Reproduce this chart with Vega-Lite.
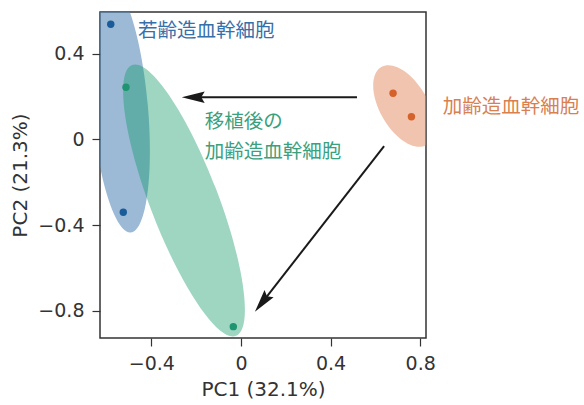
{
  "$schema": "https://vega.github.io/schema/vega-lite/v6.json",
  "width": 326,
  "height": 326,
  "autosize": {"type": "none"},
  "padding": {"left": 100, "top": 12, "right": 158, "bottom": 67},
  "background": "white",
  "config": {
    "view": {"stroke": "#333333", "strokeWidth": 1.5},
    "axis": {
      "domain": false,
      "grid": false,
      "ticks": true,
      "tickSize": 8,
      "tickColor": "#333333",
      "tickWidth": 1.2,
      "labelFont": "DejaVu Sans",
      "labelFontSize": 19,
      "labelColor": "#333333",
      "labelPadding": 8,
      "titleFont": "DejaVu Sans",
      "titleFontSize": 20,
      "titleFontWeight": "normal",
      "titleColor": "#333333"
    }
  },
  "datasets": {
    "ellipses": [
      {"group": "young", "x": -0.540, "y": 0.147},
      {"group": "transplanted", "x": -0.254, "y": -0.285},
      {"group": "aged", "x": 0.727, "y": 0.156}
    ],
    "samples": [
      {"group": "young", "x": -0.581, "y": 0.538},
      {"group": "young", "x": -0.525, "y": -0.340},
      {"group": "transplanted", "x": -0.513, "y": 0.244},
      {"group": "transplanted", "x": -0.034, "y": -0.874},
      {"group": "aged", "x": 0.679, "y": 0.216},
      {"group": "aged", "x": 0.761, "y": 0.106}
    ],
    "labels": [
      {"group": "young", "text": "若齢造血幹細胞", "x": -0.459, "y": 0.507},
      {"group": "transplanted", "text": "移植後の", "x": -0.161, "y": 0.080},
      {"group": "transplanted", "text": "加齢造血幹細胞", "x": -0.161, "y": -0.060},
      {"group": "aged", "text": "加齢造血幹細胞", "x": 0.901, "y": 0.152}
    ],
    "arrows": [
      {"arrow": 1, "x": 0.518, "y": 0.197, "x2": -0.22, "y2": 0.197},
      {"arrow": 2, "x": 0.639, "y": -0.031, "x2": 0.098, "y2": -0.757}
    ],
    "heads": [
      {"arrow": 1, "x": -0.213, "y": 0.197},
      {"arrow": 2, "x": 0.094, "y": -0.762}
    ]
  },
  "encoding": {
    "x": {
      "field": "x",
      "type": "quantitative",
      "scale": {"domain": [-0.629, 0.826], "nice": false, "zero": false},
      "axis": {
        "values": [-0.4, 0, 0.4, 0.8],
        "labelExpr": "datum.value == 0 ? '0' : format(datum.value, '.1f')",
        "title": "PC1 (32.1%)",
        "titlePadding": 6
      }
    },
    "y": {
      "field": "y",
      "type": "quantitative",
      "scale": {"domain": [-0.927, 0.595], "nice": false, "zero": false},
      "axis": {
        "values": [-0.8, -0.4, 0, 0.4],
        "labelExpr": "datum.value == 0 ? '0' : format(datum.value, '.1f')",
        "title": "PC2 (21.3%)",
        "titlePadding": 7
      }
    }
  },
  "layer": [
    {
      "data": {"name": "ellipses"},
      "transform": [{"filter": "datum.group == 'aged'"}],
      "mark": {
        "type": "point",
        "filled": true,
        "clip": true,
        "shape": "M 0 -1 A 0.533 1 0 0 1 0.533 0 A 0.533 1 0 0 1 0 1 A 0.533 1 0 0 1 -0.533 0 A 0.533 1 0 0 1 0 -1 Z",
        "size": 8100,
        "angle": -30,
        "color": "#e38a60",
        "opacity": 0.5,
        "strokeWidth": 0
      }
    },
    {
      "data": {"name": "ellipses"},
      "transform": [{"filter": "datum.group == 'young'"}],
      "mark": {
        "type": "point",
        "filled": true,
        "clip": true,
        "shape": "M 0 -1 A 0.224 1 0 0 1 0.224 0 A 0.224 1 0 0 1 0 1 A 0.224 1 0 0 1 -0.224 0 A 0.224 1 0 0 1 0 -1 Z",
        "size": 62500,
        "angle": -5,
        "color": "#5a8cbb",
        "opacity": 0.6,
        "strokeWidth": 0
      }
    },
    {
      "data": {"name": "ellipses"},
      "transform": [{"filter": "datum.group == 'transplanted'"}],
      "mark": {
        "type": "point",
        "filled": true,
        "clip": true,
        "shape": "M 0 -1 A 0.2345 1 0 0 1 0.2345 0 A 0.2345 1 0 0 1 0 1 A 0.2345 1 0 0 1 -0.2345 0 A 0.2345 1 0 0 1 0 -1 Z",
        "size": 84100,
        "angle": -21,
        "color": "#0c9866",
        "opacity": 0.4,
        "strokeWidth": 0
      }
    },
    {
      "data": {"name": "samples"},
      "mark": {"type": "circle", "size": 55, "opacity": 1},
      "encoding": {
        "color": {
          "field": "group",
          "type": "nominal",
          "scale": {"domain": ["young", "transplanted", "aged"], "range": ["#1a5c99", "#1e9470", "#d4622a"]},
          "legend": null
        }
      }
    },
    {
      "data": {"name": "labels"},
      "mark": {"type": "text", "align": "left", "baseline": "middle", "font": "Noto Sans CJK JP", "fontSize": 19.5, "clip": false},
      "encoding": {
        "text": {"field": "text"},
        "color": {
          "field": "group",
          "type": "nominal",
          "scale": {"domain": ["young", "transplanted", "aged"], "range": ["#3570aa", "#3aa07e", "#d9804f"]},
          "legend": null
        }
      }
    },
    {
      "data": {"name": "arrows"},
      "mark": {"type": "rule", "color": "#1a1a1a", "strokeWidth": 2},
      "encoding": {
        "x2": {"field": "x2"},
        "y2": {"field": "y2"}
      }
    },
    {
      "data": {"name": "heads"},
      "transform": [{"filter": "datum.arrow == 1"}],
      "mark": {"type": "point", "filled": true, "shape": "M 0 -1 L 0.5 1 L 0 0.7 L -0.5 1 Z", "size": 529, "angle": -90, "color": "#1a1a1a", "opacity": 1, "strokeWidth": 0}
    },
    {
      "data": {"name": "heads"},
      "transform": [{"filter": "datum.arrow == 2"}],
      "mark": {"type": "point", "filled": true, "shape": "M 0 -1 L 0.5 1 L 0 0.7 L -0.5 1 Z", "size": 529, "angle": -142, "color": "#1a1a1a", "opacity": 1, "strokeWidth": 0}
    }
  ],
  "resolve": {"scale": {"color": "independent"}}
}
